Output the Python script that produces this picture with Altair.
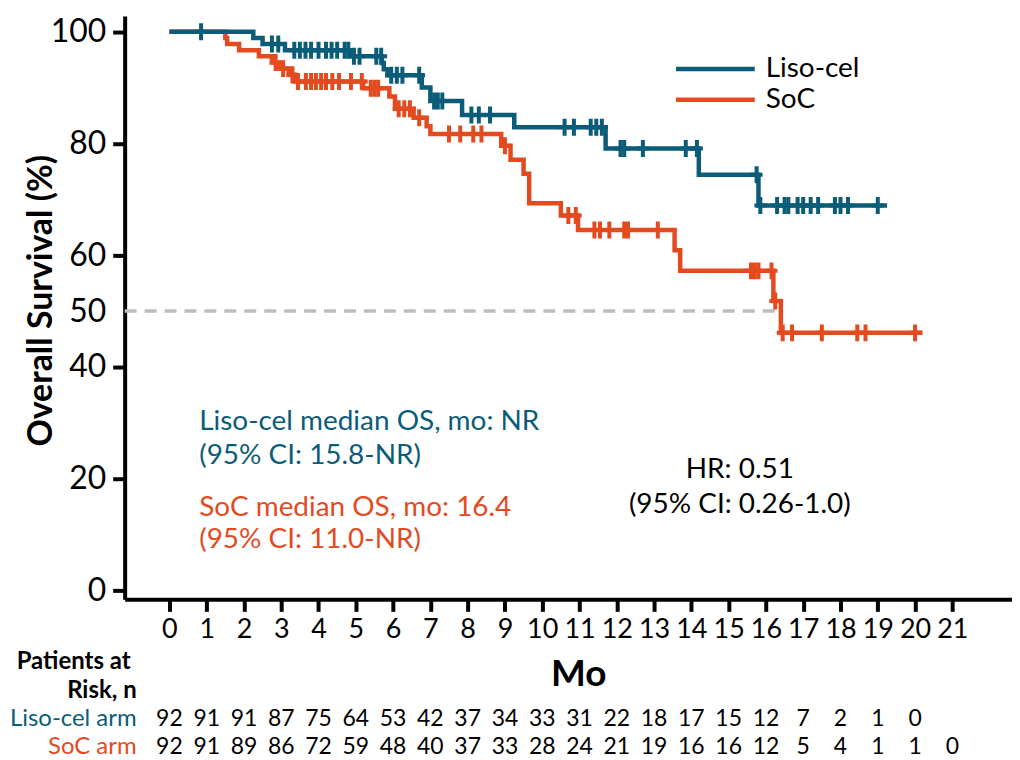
import altair as alt
import pandas as pd

TEAL = "#0b5c79"
ORANGE = "#e44a1f"
FONT = "Lato"

# Kaplan-Meier steps (month, overall survival %)
liso_t = [0, 2.25, 2.5, 3.1, 4.9, 5.7, 5.75, 5.85, 6.77, 7.0, 7.85, 9.25, 11.7, 14.2, 15.8, 19.25]
liso_s = [100, 98.9, 97.8, 96.7, 95.6, 94.4, 93.3, 92.2, 90.0, 87.6, 85.1, 82.9, 79.1, 74.4, 68.9, 68.9]
liso_cens = [0.85, 2.75, 2.92, 3.35, 3.5, 3.65, 3.8, 4.0, 4.2, 4.35, 4.5, 4.7, 4.8, 4.95, 5.1,
             5.55, 5.68, 5.95, 6.1, 6.25, 6.7, 7.1, 7.2, 7.32, 8.1, 8.3, 8.6, 10.6, 10.85, 11.3,
             11.45, 11.6, 12.1, 12.2, 12.7, 13.85, 14.15, 15.75, 15.85, 16.3, 16.5, 16.6, 16.85,
             17.0, 17.2, 17.4, 17.85, 18.0, 18.2, 19.0]

soc_t = [0, 1.5, 1.55, 1.87, 2.4, 2.75, 2.95, 3.2, 3.35, 5.2, 5.9, 6.05, 6.55, 6.9, 7.0, 8.9,
         9.15, 9.5, 9.65, 10.5, 10.96, 13.55, 13.7, 16.2, 16.4, 20.2]
soc_s = [100, 98.9, 97.8, 96.7, 95.6, 94.5, 93.4, 92.3, 91.1, 89.9, 88.4, 86.2, 84.6, 83.1, 81.7,
         79.6, 77.1, 74.6, 69.3, 67.1, 64.5, 60.9, 57.2, 51.8, 46.1, 46.1]
soc_cens = [2.85, 3.05, 3.3, 3.45, 3.66, 3.8, 3.93, 4.07, 4.2, 4.37, 4.55, 4.87, 5.16, 5.4, 5.5,
            5.6, 6.15, 6.3, 6.45, 6.7, 7.5, 7.8, 8.15, 8.37, 9.0, 10.7, 10.9, 11.4, 11.55, 11.8,
            12.2, 12.3, 13.1, 15.6, 15.7, 15.8, 16.15, 16.25, 16.45, 16.7, 17.5, 18.45, 18.67, 20.0]

# patients at risk, months 0..21
months = list(range(22))
liso_risk = [92, 91, 91, 87, 75, 64, 53, 42, 37, 34, 33, 31, 22, 18, 17, 15, 12, 7, 2, 1, 0]
soc_risk = [92, 91, 89, 86, 72, 59, 48, 40, 37, 33, 28, 24, 21, 19, 16, 16, 12, 5, 4, 1, 1, 0]

y_ticks = [0, 20, 40, 50, 60, 80, 100]

X_DOM = [-1.2, 22.6]
Y_DOM = [-1.6, 102.8]


def surv_at(t, times, surv):
    # value of the step curve at time t
    v = surv[0]
    for tt, ss in zip(times, surv):
        if tt <= t:
            v = ss
    return v


x_axis = alt.Axis(
    values=months, title="Mo", titleFont=FONT, titleFontSize=37, titleFontWeight="bold",
    titleColor="black", titleX=455, titleY=75, titleBaseline="middle",
    labelFont=FONT, labelFontSize=27, labelColor="black", labelPadding=5,
    labelFlush=False, labelOverlap=False,
    tickSize=12, tickWidth=4, tickColor="black",
    domainWidth=4, domainColor="black", grid=False,
)
y_axis = alt.Axis(
    values=y_ticks, title="Overall Survival (%)", titleFont=FONT, titleFontSize=34,
    titleFontWeight="bold", titleColor="black", titleX=-83, titleY=285, titleAngle=270,
    titleBaseline="middle", titleAlign="center",
    labelFont=FONT, labelFontSize=32, labelColor="black", labelPadding=7,
    tickSize=12, tickWidth=4, tickColor="black",
    tickOpacity={"condition": {"test": "datum.value === 50", "value": 0}, "value": 1},
    domainWidth=4, domainColor="black", grid=False,
)
xs = alt.Scale(domain=X_DOM, nice=False, zero=False)
ys = alt.Scale(domain=Y_DOM, nice=False, zero=False)


def X(f):
    return alt.X(f, type="quantitative", scale=xs, axis=x_axis)


def Y(f):
    return alt.Y(f, type="quantitative", scale=ys, axis=y_axis)


layers = []

# dashed median line
dash_df = pd.DataFrame({"x0": [X_DOM[0]], "x1": [16.3], "y": [50]})
layers.append(
    alt.Chart(dash_df).mark_rule(color="#bdbdbd", strokeWidth=3.5, strokeDash=[12, 8])
    .encode(x=X("x0"), x2="x1", y=Y("y"))
)

cross = "M-0.7,0L0.7,0M0,-1L0,1"
for times, surv, cens, col in [(soc_t, soc_s, soc_cens, ORANGE), (liso_t, liso_s, liso_cens, TEAL)]:
    line_df = pd.DataFrame({"month": times, "surv": surv})
    cens_df = pd.DataFrame({"month": cens, "surv": [surv_at(c, times, surv) for c in cens]})
    layers.append(
        alt.Chart(line_df).mark_line(interpolate="step-after", color=col, strokeWidth=4.5)
        .encode(x=X("month"), y=Y("surv"))
    )
    layers.append(
        alt.Chart(cens_df).mark_point(shape=cross, size=289, color=col, strokeWidth=4,
                                      filled=False, opacity=1)
        .encode(x=X("month"), y=Y("surv"))
    )

# legend
for name, col, yy in [("Liso-cel", TEAL, 53), ("SoC", ORANGE, 84)]:
    leg = pd.DataFrame({"label": [name]})
    layers.append(
        alt.Chart(leg).mark_rule(color=col, strokeWidth=4.5)
        .encode(x=alt.value(553), x2=alt.value(632), y=alt.value(yy))
    )
    layers.append(
        alt.Chart(leg).mark_text(align="left", baseline="middle", font=FONT, fontSize=28, color="black")
        .encode(x=alt.value(643), y=alt.value(yy), text="label:N")
    )

# annotations
notes = pd.DataFrame({
    "x": [0.8, 0.8, 0.8, 0.8, 15.3, 15.3],
    "y": [30.2, 24.1, 14.8, 9.1, 21.6, 15.3],
    "t": ["Liso-cel median OS, mo: NR", "(95% CI: 15.8-NR)", "SoC median OS, mo: 16.4",
          "(95% CI: 11.0-NR)", "HR: 0.51", "(95% CI: 0.26-1.0)"],
    "c": [TEAL, TEAL, ORANGE, ORANGE, "black", "black"],
    "a": ["left", "left", "left", "left", "center", "center"],
})
for align in ["left", "center"]:
    layers.append(
        alt.Chart(notes[notes["a"] == align]).mark_text(align=align, baseline="middle", font=FONT, fontSize=28)
        .encode(x=X("x"), y=Y("y"), text="t:N", color=alt.Color("c:N", scale=None))
    )

# patients at risk table
risk_rows = [(liso_risk, TEAL, "Liso-cel arm", 705), (soc_risk, ORANGE, "SoC arm", 733)]
for risk, col, name, yy in risk_rows:
    rdf = pd.DataFrame({"month": months[:len(risk)], "n": risk})
    layers.append(
        alt.Chart(rdf).mark_text(baseline="middle", font=FONT, fontSize=23, color="black")
        .encode(x=X("month"), y=alt.value(yy), text="n:Q")
    )
    layers.append(
        alt.Chart(pd.DataFrame({"t": [name]})).mark_text(align="right", baseline="middle", font=FONT,
                                                         fontSize=24, color=col)
        .encode(x=alt.value(12), y=alt.value(yy), text="t:N")
    )
for txt, xx, yy in [("Patients at", 6, 648), ("Risk, n", 12, 677)]:
    layers.append(
        alt.Chart(pd.DataFrame({"t": [txt]})).mark_text(align="right", baseline="middle", font=FONT,
                                                        fontSize=24, fontWeight="bold", color="black")
        .encode(x=alt.value(xx), y=alt.value(yy), text="t:N")
    )

chart = (
    alt.layer(*layers)
    .properties(width=890, height=585,
                padding={"left": 117, "top": 7, "right": 0, "bottom": 158},
                autosize=alt.AutoSizeParams(type="none"))
    .configure_view(stroke=None)
)

chart.save("out.html", embed_options={"renderer": "svg", "actions": False})
